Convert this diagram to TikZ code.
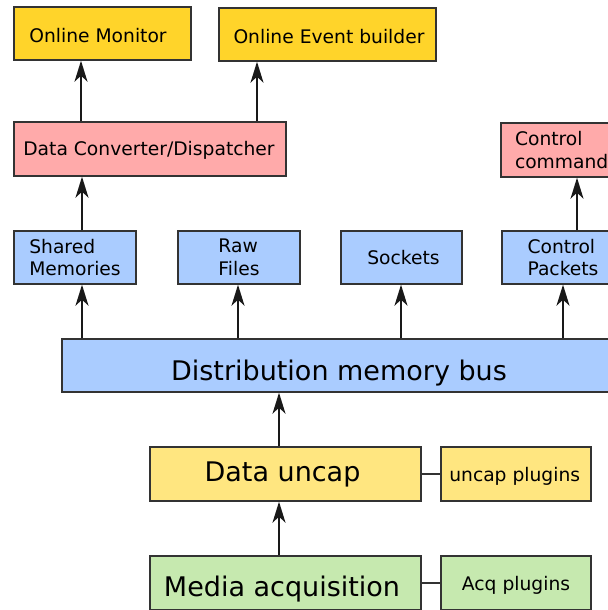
\documentclass[tikz,border=0pt]{standalone}
\usepackage{fontspec}
\setmainfont{DejaVu Sans}
\usetikzlibrary{arrows.meta}
\definecolor{cYellow}{HTML}{FFD42A}
\definecolor{cPink}{HTML}{FFAAAA}
\definecolor{cBlue}{HTML}{AACCFF}
\definecolor{cLYellow}{HTML}{FFE680}
\definecolor{cGreen}{HTML}{C6E9AF}
\definecolor{cEdge}{HTML}{333333}
\newcommand\fsmall{\fontsize{18.7bp}{22.6bp}\selectfont}
\newcommand\fbig{\fontsize{27bp}{32bp}\selectfont}
\begin{document}
\begin{tikzpicture}[x=1bp,y=-1bp,
  box/.style={draw=cEdge, line width=1.4bp, inner sep=0pt, font=\fsmall, text depth=0pt},
  smallbox/.style={box, minimum width=122bp, minimum height=53bp, fill=cBlue, align=left, text depth=, text height=},
  arr/.style={draw=black!90, line width=1.6bp, -{Stealth[length=21bp, width=13bp, inset=6bp]}},
  link/.style={draw=cEdge, line width=1.6bp}]
\useasboundingbox (0,0) rectangle (608,610);
\clip (0,0) rectangle (608,610);

% top row
\node[box, fill=cYellow, minimum width=177bp, minimum height=53bp, text height=18.4bp] (mon) at (102.5,33.5) {Online Monitor\hspace*{9bp}};
\node[box, fill=cYellow, minimum width=217bp, minimum height=53bp, text height=17.6bp] (evb) at (327.5,34.5) {\hspace*{3bp}Online Event builder};

% second row
\node[box, fill=cPink, minimum width=272bp, minimum height=54bp, text height=14bp] (conv) at (150,149) {Data Converter/Dispatcher\hspace*{2bp}};
\node[box, fill=cPink, minimum width=131bp, minimum height=54bp, text width=103bp, align=left, text depth=, text height=] (ctrlc) at (566.5,150) {Control\\command};

% third row
\node[smallbox] (shm) at (75,257.5) {Shared\\Memories};
\node[smallbox] (raw) at (239,257.5) {Raw\\Files};
\node[box, fill=cBlue, minimum width=121bp, minimum height=53bp, text height=13.6bp] (sock) at (401.5,257.5) {\hspace*{4bp}Sockets};
\node[smallbox] (ctrlp) at (563,257.5) {Control\\Packets};

% bus
\node[box, fill=cBlue, font=\fbig, minimum width=554bp, minimum height=53bp, text height=29bp] (bus) at (339,365.5) {Distribution memory bus};

% bottom
\node[box, fill=cLYellow, font=\fbig, minimum width=271bp, minimum height=54bp, text height=14bp] (uncap) at (285.5,474) {Data uncap\hspace*{6bp}};
\node[box, fill=cLYellow, minimum width=150bp, minimum height=54bp, text height=14bp] (uplug) at (516,474) {uncap plugins\hspace*{2.6bp}};
\node[box, fill=cGreen, font=\fbig, minimum width=271bp, minimum height=54bp, text height=27.4bp] (media) at (285.5,583) {Media acquisition\hspace*{7bp}};
\node[box, fill=cGreen, minimum width=150bp, minimum height=54bp, text height=15.4bp] (aplug) at (516,583) {Acq plugins};

% connectors
\draw[arr] ([xshift=-21.5bp]mon.south |- conv.north) -- ([xshift=-21.5bp]mon.south);
\draw[arr] ([xshift=-70.5bp]evb.south |- conv.north) -- ([xshift=-70.5bp]evb.south);
\draw[arr] ([xshift=7bp]shm.north) -- ([xshift=7bp]shm.north |- conv.south);
\draw[arr] ([xshift=14bp]ctrlp.north) -- ([xshift=14bp]ctrlp.north |- ctrlc.south);

\draw[arr] ([xshift=7bp]shm.south |- bus.north) -- ([xshift=7bp]shm.south);
\draw[arr] ([xshift=-1bp]raw.south |- bus.north) -- ([xshift=-1bp]raw.south);
\draw[arr] ([xshift=-0.5bp]sock.south |- bus.north) -- ([xshift=-0.5bp]sock.south);
\draw[arr] (ctrlp.south |- bus.north) -- (ctrlp.south);

\draw[arr] ([xshift=-6.5bp]uncap.north) -- ([xshift=-6.5bp]uncap.north |- bus.south);
\draw[arr] ([xshift=-6.5bp]media.north) -- ([xshift=-6.5bp]media.north |- uncap.south);

\draw[link] (uncap.east) -- (uplug.west);
\draw[link] (media.east) -- (aplug.west);
\end{tikzpicture}
\end{document}
